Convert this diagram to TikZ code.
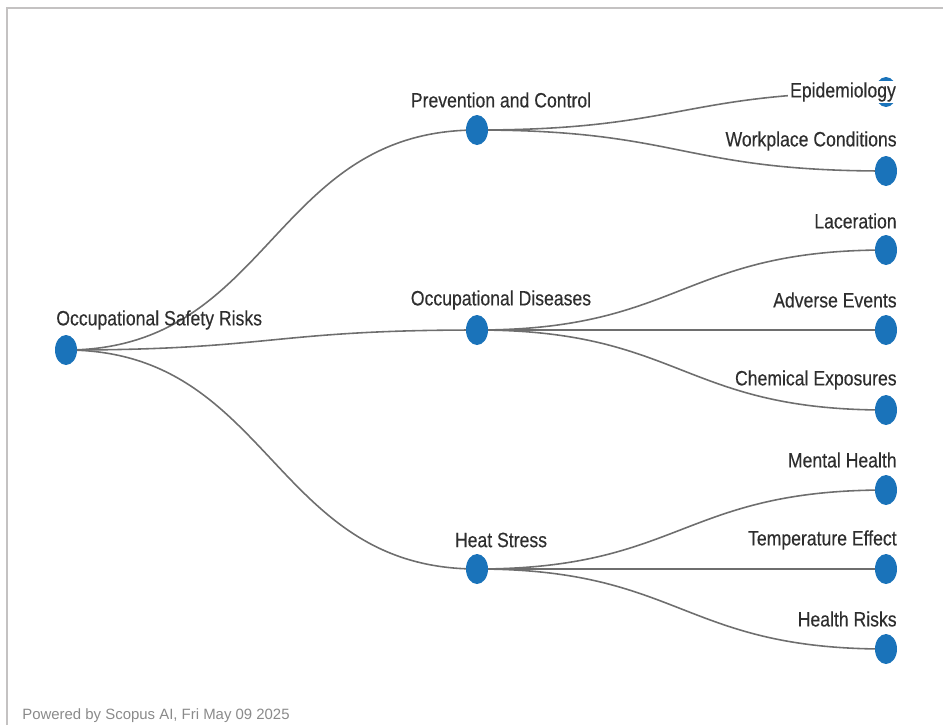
\documentclass[tikz,border=0pt]{standalone}
\usepackage{fontspec}
\setmainfont{Liberation Sans}[FakeStretch=0.85,FakeBold=0.3]
\newfontfamily\stampfont{Liberation Sans}
\usetikzlibrary{shapes.geometric,backgrounds,calc}
\definecolor{dotColor}{HTML}{1A73BA}
\definecolor{linkColor}{HTML}{6E6E6E}
\definecolor{textColor}{HTML}{2E2E2E}
\definecolor{frameColor}{HTML}{C4C2C2}
\definecolor{stampColor}{HTML}{8A8A8A}

\begin{document}
\begin{tikzpicture}[x=0.02cm,y=-0.02cm,
  dot/.style={ellipse,fill=dotColor,inner sep=0,minimum width=0.44cm,minimum height=0.6cm},
  tag/.style={text=textColor,font=\fontsize{11.8}{14}\selectfont,inner sep=0},
  link/.style={draw=linkColor,line width=0.9pt,
    to path={let \p1=(\tikztostart),\p2=(\tikztotarget) in
      .. controls ({0.5*\x1+0.5*\x2},\y1) and ({0.5*\x1+0.5*\x2},\y2) .. (\tikztotarget)}}]
\useasboundingbox (0,0) rectangle (943,725);
\draw[frameColor,line width=1.6pt] (7,725) -- (7,8) -- (943,8);

\node[dot] (risks) at (66,350) {};
\node[dot] (prev) at (477,130) {};
\node[dot] (dis) at (477,330) {};
\node[dot] (heat) at (477,569) {};
\node[dot] (epi) at (886,92) {};
\node[dot] (work) at (886,171) {};
\node[dot] (lac) at (886,250) {};
\node[dot] (adv) at (886,330) {};
\node[dot] (chem) at (886,410) {};
\node[dot] (mental) at (886,490) {};
\node[dot] (temp) at (886,569) {};
\node[dot] (hrisk) at (886,649) {};

\node[tag,anchor=west] (risksL) at (56,320) {Occupational Safety Risks};
\node[tag] (prevL) at (501,100) {Prevention and Control};
\node[tag] (disL) at (501,300) {Occupational Diseases};
\node[tag] (heatL) at (501,540) {Heat Stress};
\node[tag,anchor=east,fill=white,inner sep=1pt] (epiL) at (898,92) {Epidemiology};
\node[tag,anchor=east] (workL) at (897,141) {Workplace Conditions};
\node[tag,anchor=east] (lacL) at (897,221) {Laceration};
\node[tag,anchor=east] (advL) at (897,300) {Adverse Events};
\node[tag,anchor=east] (chemL) at (897,380) {Chemical Exposures};
\node[tag,anchor=east] (mentalL) at (897,460) {Mental Health};
\node[tag,anchor=east] (tempL) at (897,540) {Temperature Effect};
\node[tag,anchor=east] (hriskL) at (897,619) {Health Risks};

\begin{scope}[on background layer]
\foreach \a/\b in {risks/prev,risks/dis,risks/heat,prev/epi,prev/work,
    dis/lac,dis/adv,dis/chem,heat/mental,heat/temp,heat/hrisk}
  \draw[link] (\a.center) to (\b.center);
\end{scope}

\node[anchor=west,text=stampColor,font=\stampfont\fontsize{8.5}{10}\selectfont,inner sep=0]
  (stamp) at (22,716) {Powered by Scopus AI, Fri May 09 2025};
\end{tikzpicture}
\end{document}
